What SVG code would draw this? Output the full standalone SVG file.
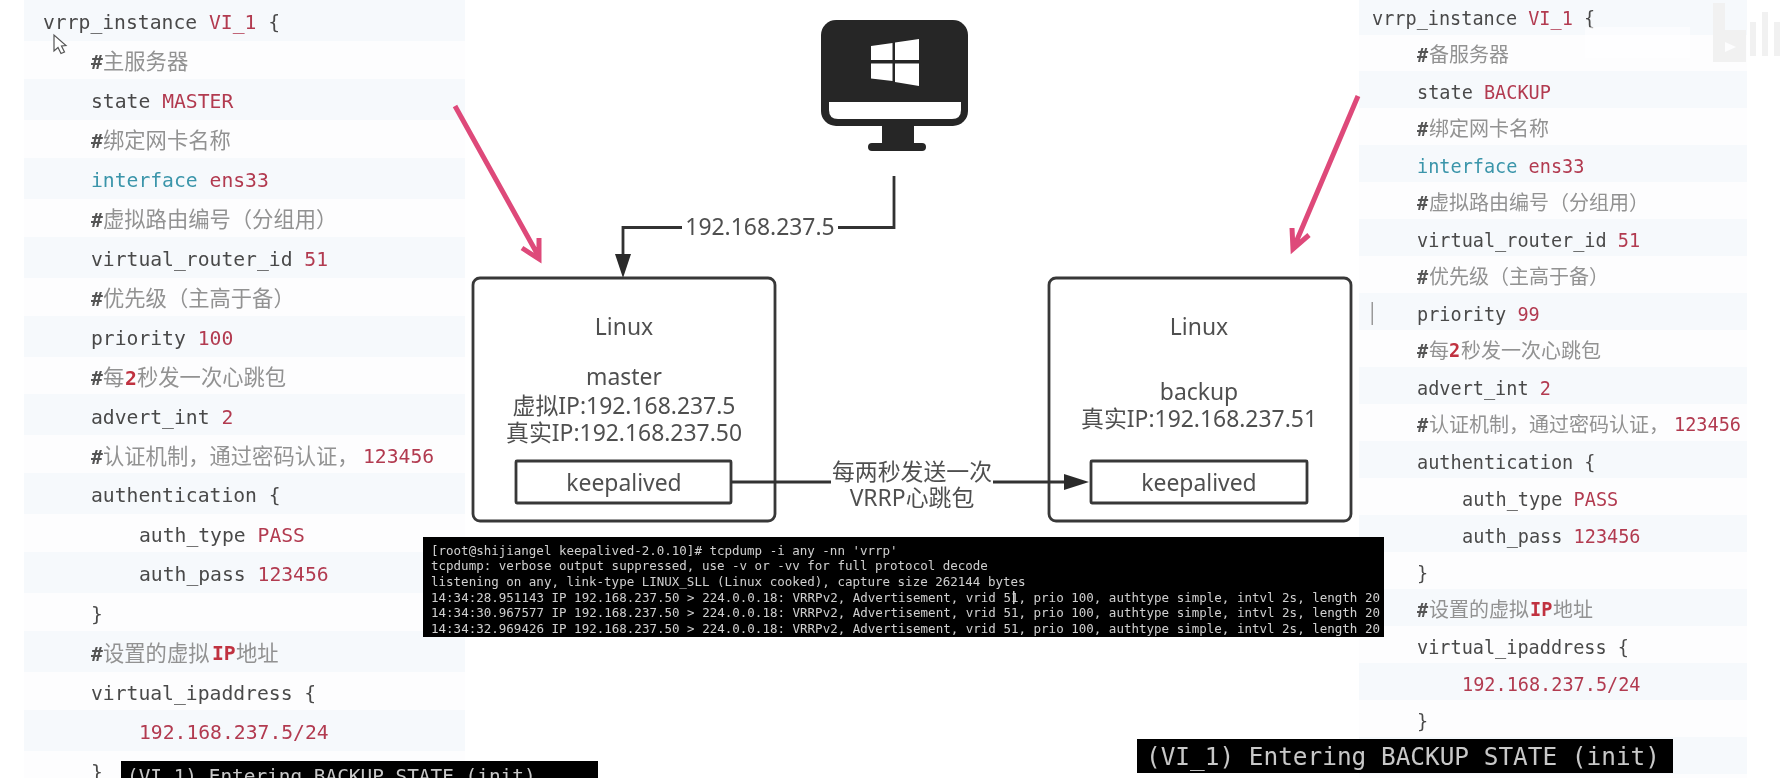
<svg xmlns="http://www.w3.org/2000/svg" width="1788" height="778" viewBox="0 0 1788 778">
<style>
.bg{fill:#fdfdfe}.band{fill:#f6f9fc}
.l{font-family:"DejaVu Sans Mono","Liberation Mono",monospace;font-size:19.7px;fill:#4a4a4a}
.r{font-family:"DejaVu Sans Mono","Liberation Mono",monospace;font-size:18.55px;fill:#4a4a4a}
.v{fill:#b23a50}.k{fill:#3a95aa}.h{font-weight:700;fill:#555}.n{font-weight:700;fill:#c0303f}
.cl{font-family:"Noto Sans CJK SC",sans-serif;font-size:21.3px;fill:#929292}
.cr{font-family:"Noto Sans CJK SC",sans-serif;font-size:20px;fill:#929292}
.d{font-family:"Noto Sans","Noto Sans CJK SC",sans-serif;font-size:22.9px;fill:#505050;text-anchor:middle}
.box{fill:#fff;stroke:#383838;stroke-width:2.8}
.wire{fill:none;stroke:#333;stroke-width:2.8}
.pink{fill:none;stroke:#de4a7a;stroke-width:5}
.term{font-family:"DejaVu Sans Mono","Liberation Mono",monospace;font-size:12.5px;fill:#cfcfcf}
.state{font-family:"DejaVu Sans Mono","Liberation Mono",monospace;fill:#c8c8c8}
</style>
<defs><filter id="soft" x="0" y="0" width="100%" height="100%"><feGaussianBlur stdDeviation="0.45"/></filter></defs>
<rect width="1788" height="778" fill="#fff"/>
<g filter="url(#soft)">
<g id="config-master">
<rect class="bg" x="24" y="0" width="441" height="778"/>
<rect class="band" x="24" y="0" width="441" height="41"/>
<rect class="band" x="24" y="79" width="441" height="41"/>
<rect class="band" x="24" y="158" width="441" height="41"/>
<rect class="band" x="24" y="237" width="441" height="41"/>
<rect class="band" x="24" y="316" width="441" height="41"/>
<rect class="band" x="24" y="394" width="441" height="41"/>
<rect class="band" x="24" y="473" width="441" height="41"/>
<rect class="band" x="24" y="552" width="441" height="41"/>
<rect class="band" x="24" y="631" width="441" height="41"/>
<rect class="band" x="24" y="710" width="441" height="41"/>
<text class="l" x="43" y="29">vrrp_instance <tspan class="v">VI_1</tspan> {</text>
<text class="l h" x="91" y="69">#</text><text class="cl" x="103" y="69">主服务器</text>
<text class="l" x="91" y="108">state <tspan class="v">MASTER</tspan></text>
<text class="l h" x="91" y="148">#</text><text class="cl" x="103" y="148">绑定网卡名称</text>
<text class="l k" x="91" y="187">interface <tspan class="v">ens33</tspan></text>
<text class="l h" x="91" y="227">#</text><text class="cl" x="103" y="227">虚拟路由编号（分组用）</text>
<text class="l" x="91" y="266">virtual_router_id <tspan class="v">51</tspan></text>
<text class="l h" x="91" y="306">#</text><text class="cl" x="103" y="306">优先级（主高于备）</text>
<text class="l" x="91" y="345">priority <tspan class="v">100</tspan></text>
<text class="l h" x="91" y="385">#</text><text class="l n" x="125" y="385">2</text><text class="cl" x="103" y="385">每</text><text class="cl" x="137" y="385">秒发一次心跳包</text>
<text class="l" x="91" y="423.500">advert_int <tspan class="v">2</tspan></text>
<text class="l h" x="91" y="464">#</text><text class="cl" x="103" y="464">认证机制，通过密码认证，</text><text class="l v" x="363" y="463">123456</text>
<text class="l" x="91" y="502.400">authentication {</text>
<text class="l" x="139" y="541.900">auth_type <tspan class="v">PASS</tspan></text>
<text class="l" x="139" y="581.300">auth_pass <tspan class="v">123456</tspan></text>
<text class="l" x="91" y="620.800">}</text>
<text class="l h" x="91" y="661">#</text><text class="cl" x="103" y="661">设置的虚拟</text><text class="l n" x="212" y="660">IP</text><text class="cl" x="236" y="661">地址</text>
<text class="l" x="91" y="699.700">virtual_ipaddress {</text>
<text class="l v" x="139" y="739.100">192.168.237.5/24</text>
<text class="l" x="91" y="778.600">}</text>
<path d="M54 35 L54 51 L58 47.5 L61 53.5 L64.5 52 L61.5 46 L66 45.5 Z" fill="#fff" stroke="#555" stroke-width="1.2"/>
</g>
<g id="config-backup">
<rect class="bg" x="1359" y="0" width="388" height="778"/>
<rect class="band" x="1359" y="0" width="388" height="35"/>
<rect class="band" x="1359" y="71" width="388" height="37"/>
<rect class="band" x="1359" y="145" width="388" height="37"/>
<rect class="band" x="1359" y="219" width="388" height="37"/>
<rect class="band" x="1359" y="293" width="388" height="37"/>
<rect class="band" x="1359" y="367" width="388" height="37"/>
<rect class="band" x="1359" y="441" width="388" height="37"/>
<rect class="band" x="1359" y="515" width="388" height="37"/>
<rect class="band" x="1359" y="589" width="388" height="37"/>
<rect class="band" x="1359" y="663" width="388" height="37"/>
<rect class="band" x="1359" y="737" width="388" height="37"/>
<text class="r" x="1372" y="24.500">vrrp_instance <tspan class="v">VI_1</tspan> {</text>
<text class="r h" x="1417" y="62">#</text><text class="cr" x="1429" y="62">备服务器</text>
<text class="r" x="1417" y="98.500">state <tspan class="v">BACKUP</tspan></text>
<text class="r h" x="1417" y="136">#</text><text class="cr" x="1429" y="136">绑定网卡名称</text>
<text class="r k" x="1417" y="172.500">interface <tspan class="v">ens33</tspan></text>
<text class="r h" x="1417" y="210">#</text><text class="cr" x="1429" y="210">虚拟路由编号（分组用）</text>
<text class="r" x="1417" y="246.500">virtual_router_id <tspan class="v">51</tspan></text>
<text class="r h" x="1417" y="284">#</text><text class="cr" x="1429" y="284">优先级（主高于备）</text>
<text class="r" x="1417" y="320.500">priority <tspan class="v">99</tspan></text>
<text class="r h" x="1417" y="358">#</text><text class="cr" x="1429" y="358">每</text><text class="r n" x="1449" y="357">2</text><text class="cr" x="1461" y="358">秒发一次心跳包</text>
<text class="r" x="1417" y="394.500">advert_int <tspan class="v">2</tspan></text>
<text class="r h" x="1417" y="432">#</text><text class="cr" x="1429" y="432">认证机制，通过密码认证，</text><text class="r v" x="1674" y="431">123456</text>
<text class="r" x="1417" y="468.500">authentication {</text>
<text class="r" x="1462" y="505.500">auth_type <tspan class="v">PASS</tspan></text>
<text class="r" x="1462" y="542.500">auth_pass <tspan class="v">123456</tspan></text>
<text class="r" x="1417" y="579.500">}</text>
<text class="r h" x="1417" y="617">#</text><text class="cr" x="1429" y="617">设置的虚拟</text><text class="r n" x="1530" y="616">IP</text><text class="cr" x="1553" y="617">地址</text>
<text class="r" x="1417" y="653.500">virtual_ipaddress {</text>
<text class="r v" x="1462" y="690.500">192.168.237.5/24</text>
<text class="r" x="1417" y="727.500">}</text>
<rect x="1371.500" y="302" width="1.5" height="23" fill="#999"/>
<rect x="1585" y="27" width="105" height="31" fill="#fff" opacity=".55"/>
<path d="M1713 3H1725V30H1746V62H1713ZM1725 42V52L1736 47Z" fill="#f1f1f1" fill-rule="evenodd"/>
<path d="M1750 22H1756V56H1750ZM1762 12H1768V56H1762ZM1774 22H1780V56H1774Z" fill="#f1f1f1"/>
</g>
<g id="pc">
<rect x="821" y="20" width="147" height="106" rx="15" fill="#262626"/>
<path d="M829 102H961V110Q961 119 952 119H838Q829 119 829 110Z" fill="#fff"/>
<rect x="882" y="125" width="32" height="20" fill="#262626"/>
<rect x="868" y="143" width="58" height="8" rx="4" fill="#262626"/>
<path d="M871 46L892.500 43V60H871ZM895 42.500L919 39V60H895ZM871 63.500H892.500V81L871 78.500ZM895 63.500H919V86L895 82Z" fill="#fff"/>
</g>
<g id="master">
<rect class="box" x="473" y="278" width="302" height="243" rx="7"/>
<text class="d" x="624" y="335">Linux</text>
<text class="d" x="624" y="385">master</text>
<text class="d" x="624" y="414">虚拟IP:192.168.237.5</text>
<text class="d" x="624" y="441">真实IP:192.168.237.50</text>
<rect class="box" x="516" y="461" width="215" height="42" rx="1"/>
<text class="d" x="624" y="491">keepalived</text>
</g>
<g id="backup">
<rect class="box" x="1049" y="278" width="302" height="243" rx="7"/>
<text class="d" x="1199" y="335">Linux</text>
<text class="d" x="1199" y="400">backup</text>
<text class="d" x="1199" y="427">真实IP:192.168.237.51</text>
<rect class="box" x="1091" y="461" width="216" height="42" rx="1"/>
<text class="d" x="1199" y="491">keepalived</text>
</g>
<g id="connectors">
<path class="wire" d="M894 176V227.500H838M682 227.500H623V256"/>
<path d="M615 254H631L623 278Z" fill="#2c2c2c"/>
<text class="d" x="760" y="235">192.168.237.5</text>
<path class="wire" d="M731 482H831M993 482H1066"/>
<path d="M1064 474L1089 482L1064 490Z" fill="#2c2c2c"/>
<text class="d" x="912" y="480">每两秒发送一次</text>
<text class="d" x="912" y="506">VRRP心跳包</text>
<path class="pink" d="M455 106L539 257M522 248L539 259L539 238"/>
<path class="pink" d="M1358 96L1294 247M1292 228L1293 249L1309 235"/>
</g>
<g id="terminal">
<rect x="423" y="537" width="961" height="100" fill="#050505"/>
<text class="term" x="431" y="555">[root@shijiangel keepalived-2.0.10]# tcpdump -i any -nn 'vrrp'</text>
<text class="term" x="431" y="570">tcpdump: verbose output suppressed, use -v or -vv for full protocol decode</text>
<text class="term" x="431" y="586">listening on any, link-type LINUX_SLL (Linux cooked), capture size 262144 bytes</text>
<text class="term" x="431" y="602" textLength="949">14:34:28.951143 IP 192.168.237.50 &gt; 224.0.0.18: VRRPv2, Advertisement, vrid 51, prio 100, authtype simple, intvl 2s, length 20</text>
<text class="term" x="431" y="617" textLength="949">14:34:30.967577 IP 192.168.237.50 &gt; 224.0.0.18: VRRPv2, Advertisement, vrid 51, prio 100, authtype simple, intvl 2s, length 20</text>
<text class="term" x="431" y="633" textLength="949">14:34:32.969426 IP 192.168.237.50 &gt; 224.0.0.18: VRRPv2, Advertisement, vrid 51, prio 100, authtype simple, intvl 2s, length 20</text>
<rect x="1013" y="591" width="1.5" height="13" fill="#cfcfcf"/>
</g>
<g id="log-master">
<rect x="121" y="761" width="477" height="17" fill="#050505"/>
<text class="state" x="127" y="783" font-size="19.4">(VI_1) Entering BACKUP STATE (init)</text>
</g>
<g id="log-backup">
<rect x="1137" y="739" width="536" height="34" fill="#050505"/>
<text class="state" x="1146" y="765" font-size="24.4">(VI_1) Entering BACKUP STATE (init)</text>
</g>
</g>
</svg>
